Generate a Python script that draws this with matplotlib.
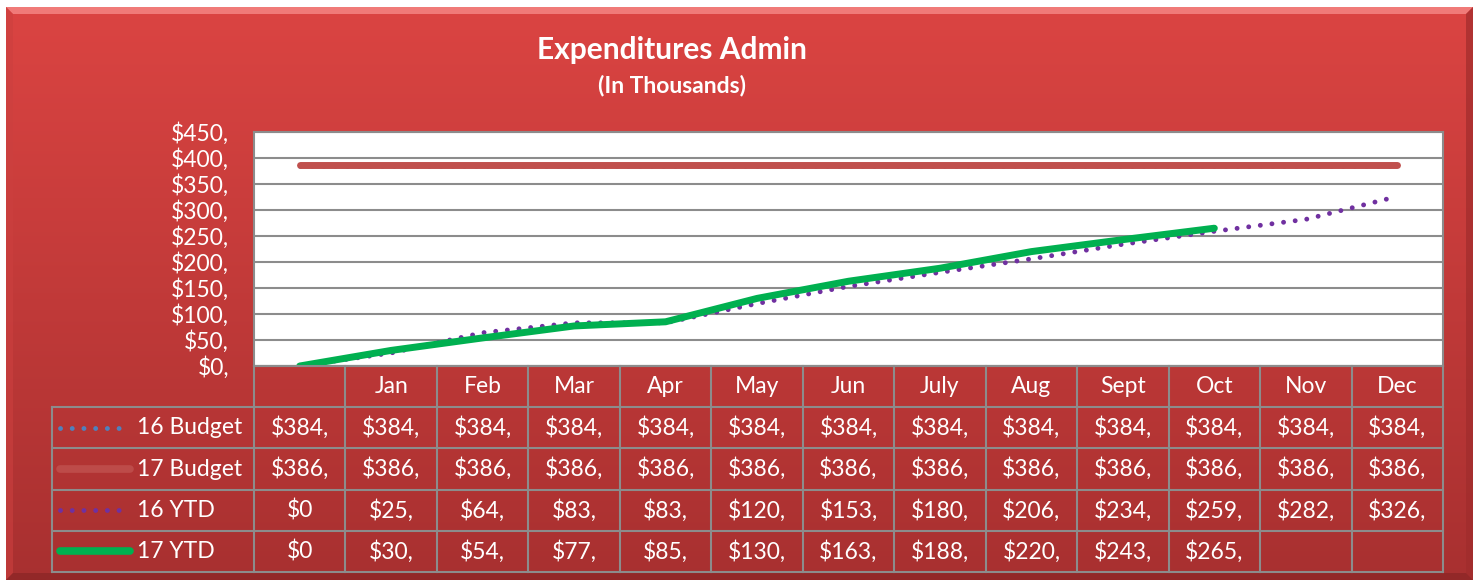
import numpy as np
import matplotlib.pyplot as plt
from matplotlib.patches import Polygon

# chart data
months = ['', 'Jan', 'Feb', 'Mar', 'Apr', 'May', 'Jun', 'July', 'Aug', 'Sept', 'Oct', 'Nov', 'Dec']
budget_16 = [384] * 13
budget_17 = [386] * 13
ytd_16 = [0, 25, 64, 83, 83, 120, 153, 180, 206, 234, 259, 282, 326]
ytd_17 = [0, 30, 54, 77, 85, 130, 163, 188, 220, 243, 265, None, None]
series_names = ['16 Budget', '17 Budget', '16 YTD', '17 YTD']
y_ticks = [0, 50, 100, 150, 200, 250, 300, 350, 400, 450]

plt.rcParams['font.family'] = ['Lato', 'DejaVu Sans']
FS = 16.5

W, H = 1479, 584
fig = plt.figure(figsize=(W / 100, H / 100), dpi=100)
fig.patch.set_facecolor('white')

# red panel background with a soft vertical gradient and bevel
bg = fig.add_axes([0, 0, 1, 1])
bg.set_xlim(0, W)
bg.set_ylim(H, 0)
bg.axis('off')
x0, x1, y0, y1 = 6, 1473, 7, 580
top = np.array([0xDB, 0x44, 0x42]) / 255
bot = np.array([0xA8, 0x30, 0x30]) / 255
t = np.linspace(0, 1, 256)[:, None]
grad = (top * (1 - t) + bot * t)[:, None, :]
bg.imshow(grad, extent=(x0, x1, y1, y0), aspect='auto', zorder=0)
b = 7
bg.add_patch(Polygon([(x0, y0), (x1, y0), (x1 - b, y0 + b), (x0 + b, y0 + b)], color='#F07A78', lw=0, zorder=1))
bg.add_patch(Polygon([(x0, y0), (x0 + b, y0 + b), (x0 + b, y1 - b), (x0, y1)], color='#CC403F', lw=0, zorder=1, alpha=0.6))
bg.add_patch(Polygon([(x1, y0), (x1, y1), (x1 - b, y1 - b), (x1 - b, y0 + b)], color='#A02C2C', lw=0, zorder=1, alpha=0.7))
bg.add_patch(Polygon([(x0, y1), (x1, y1), (x1 - b, y1 - b), (x0 + b, y1 - b)], color='#8A2525', lw=0, zorder=1, alpha=0.7))

fig.text(672 / W, 1 - 50 / H, 'Expenditures Admin', color='white', fontsize=21.5,
         fontweight='bold', ha='center', va='center')
fig.text(672 / W, 1 - 85 / H, '(In Thousands)', color='white', fontsize=16.5,
         fontweight='bold', ha='center', va='center')

# plot area
px0, px1, py0, py1 = 254, 1443, 132, 366
ax = fig.add_axes([px0 / W, 1 - py1 / H, (px1 - px0) / W, (py1 - py0) / H])
ax.set_facecolor('white')
x = np.arange(len(months))
ax.set_xlim(-0.5, len(months) - 0.5)
ax.set_ylim(0, 450)
ax.set_yticks(y_ticks)
ax.set_yticklabels([f'${v:,},' for v in y_ticks], color='white', fontsize=FS)
ax.tick_params(axis='y', length=0, pad=18)
ax.set_xticks([])
ax.grid(axis='y', color='#8C8C8C', lw=1.5)
ax.set_axisbelow(True)
for s in ax.spines.values():
    s.set_color('#8C8C8C')
    s.set_linewidth(1.5)

dot = (0, (0.01, 2.4))
ax.plot(x, budget_16, color='#4F81BD', lw=3.5, linestyle=dot, dash_capstyle='round', zorder=3)
ax.plot(x, budget_17, color='#C0504D', lw=5, solid_capstyle='round', zorder=4)
ax.plot(x, ytd_16, color='#7030A0', lw=3.5, linestyle=dot, dash_capstyle='round', zorder=5)
y17 = np.array([np.nan if v is None else v for v in ytd_17], dtype=float)
ax.plot(x, y17, color='#00B050', lw=5, solid_capstyle='round', solid_joinstyle='round', zorder=6)

# data table under the plot
tx0, ty1 = 52, 572
col_w = (px1 - px0) / len(months)
left_units = -0.5 - (px0 - tx0) / col_w
tab = fig.add_axes([tx0 / W, 1 - ty1 / H, (px1 - tx0) / W, (ty1 - py1) / H])
tab.set_xlim(left_units, len(months) - 0.5)
tab.set_ylim(5, 0)
tab.axis('off')
gc = '#8C8C8C'
for r in range(6):
    xl = -0.5 if r == 0 else left_units
    tab.plot([xl, len(months) - 0.5], [r, r], color=gc, lw=1.5, clip_on=False)
for c in range(len(months) + 1):
    tab.plot([c - 0.5, c - 0.5], [0, 5], color=gc, lw=1.5, clip_on=False)
tab.plot([left_units, left_units], [1, 5], color=gc, lw=1.5, clip_on=False)

for i, m in enumerate(months):
    tab.text(i, 0.5, m, color='white', fontsize=FS, ha='center', va='center')


def fmt(v):
    if v is None:
        return ''
    return '$0' if v == 0 else f'${v:,},'


rows = [budget_16, budget_17, ytd_16, ytd_17]
for r, vals in enumerate(rows):
    for i, v in enumerate(vals):
        tab.text(i, r + 1.5, fmt(v), color='white', fontsize=FS, ha='center', va='center')

# legend keys in the left column
kx0 = left_units + (60 - tx0) / col_w
kx1 = left_units + (130 - tx0) / col_w
kt = left_units + (137 - tx0) / col_w
keys = [
    dict(color='#4F81BD', lw=3.5, linestyle=dot, dash_capstyle='round'),
    dict(color='#C0504D', lw=5.5, solid_capstyle='round', alpha=0.85),
    dict(color='#7030A0', lw=3.5, linestyle=dot, dash_capstyle='round'),
    dict(color='#00B050', lw=5.5, solid_capstyle='round'),
]
for r, (name, style) in enumerate(zip(series_names, keys)):
    tab.plot([kx0, kx1], [r + 1.5, r + 1.5], **style)
    tab.text(kt, r + 1.5, name, color='white', fontsize=FS, ha='left', va='center')

fig.savefig('out.png', dpi=100, facecolor='white')
